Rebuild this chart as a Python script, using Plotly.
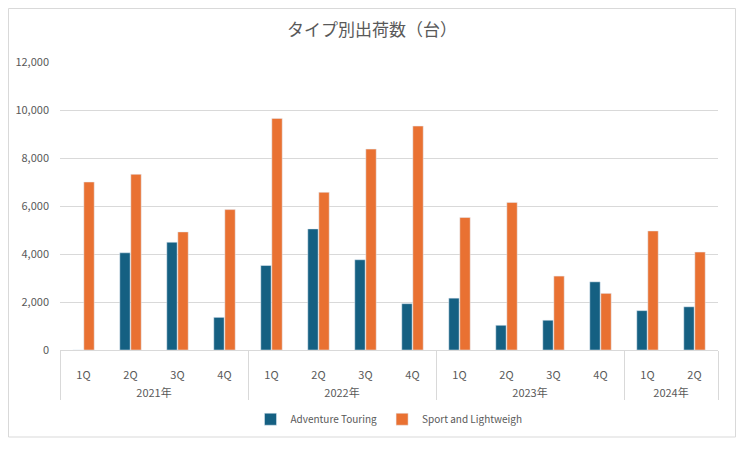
import plotly.graph_objects as go

years = ["2021年"] * 4 + ["2022年"] * 4 + ["2023年"] * 4 + ["2024年"] * 2
quarters = ["1Q", "2Q", "3Q", "4Q"] * 3 + ["1Q", "2Q"]
adventure_touring = [0, 4050, 4490, 1360, 3520, 5045, 3760, 1930, 2160, 1030, 1240, 2840, 1640, 1800]
sport_lightweigh = [7000, 7320, 4920, 5850, 9650, 6570, 8370, 9330, 5520, 6150, 3080, 2360, 4960, 4080]

font_family = "Liberation Sans Narrow, Noto Sans CJK JP, sans-serif"
grey = "#595959"

# leading line breaks push both label rows down, like the reference's padding
quarter_labels = ["<br>" + q for q in quarters]
year_labels = ["<br>" + y for y in years]

fig = go.Figure()
fig.add_trace(go.Bar(name="Adventure Touring", x=[year_labels, quarter_labels], y=adventure_touring,
                     marker_color="#156082"))
fig.add_trace(go.Bar(name="Sport and Lightweigh", x=[year_labels, quarter_labels], y=sport_lightweigh,
                     marker_color="#E97132"))

fig.update_layout(
    width=728, height=431,
    margin=dict(l=52, r=18, t=54, b=89, autoexpand=False),
    paper_bgcolor="white", plot_bgcolor="white",
    barmode="group", bargap=0.53, bargroupgap=0.06,
    font=dict(family=font_family, color=grey, size=11),
    title=dict(text="タイプ別出荷数（台）", x=0.5, xanchor="center", y=0.949, yanchor="middle",
               font=dict(family="Noto Sans CJK JP, sans-serif", size=17, color=grey)),
    legend=dict(orientation="h", x=0.5, xanchor="center", y=-0.19, yanchor="top",
                font=dict(size=10, color=grey), itemwidth=30),
    showlegend=True,
)
fig.update_yaxes(range=[0, 12000], dtick=2000, tickformat=",d", gridcolor="#d9d9d9",
                 zeroline=False, showline=False, ticks="", tickfont=dict(size=11, color=grey),
                 ticklabelstandoff=10, automargin=False)
fig.update_xaxes(type="multicategory", showline=True, linecolor="#d9d9d9", linewidth=1,
                 showdividers=True, dividercolor="#d9d9d9", dividerwidth=1,
                 tickfont=dict(size=11, color=grey), ticks="", automargin=False)

fig.add_shape(type="rect", xref="paper", yref="paper",
              x0=-51.5 / 658, x1=1 + 17.5 / 658, y0=-(437 - 350) / 288, y1=(350 - 8.5) / 288,
              line=dict(color="#d9d9d9", width=1), fillcolor="rgba(0,0,0,0)", layer="below")

fig.write_html("out.html")
